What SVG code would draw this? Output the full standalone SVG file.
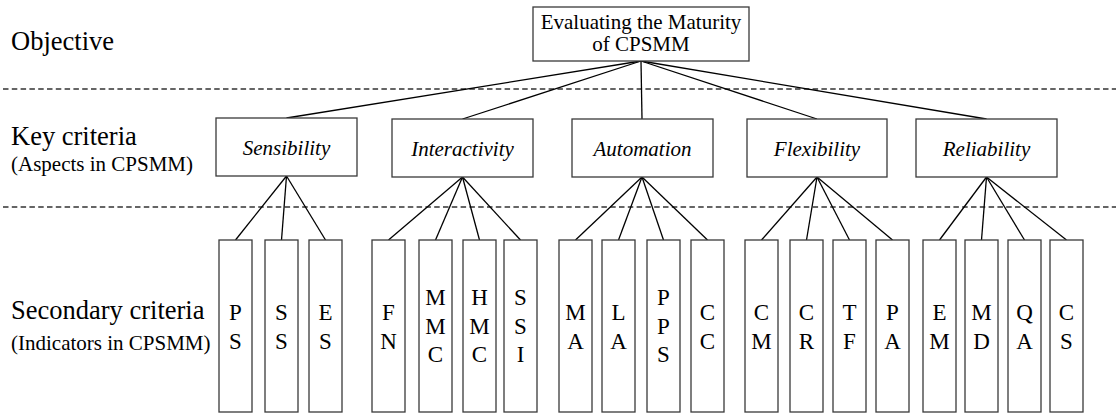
<svg xmlns="http://www.w3.org/2000/svg" width="1118" height="414" viewBox="0 0 1118 414">
<style>
.bg{fill:#ffffff}
.box{fill:#ffffff;stroke:#3a3a3a;stroke-width:1.3}
.ln{stroke:#000000;stroke-width:1.3;fill:none}
.dash{stroke:#333333;stroke-width:1.4;stroke-dasharray:5.5 3.3;fill:none}
.lbl{font-family:"Liberation Serif","Times New Roman",serif;font-size:26.5px;fill:#000}
.sub{font-family:"Liberation Serif","Times New Roman",serif;font-size:21px;fill:#000}
.top{font-family:"Liberation Serif","Times New Roman",serif;font-size:21px;fill:#000;text-anchor:middle}
.key{font-family:"Liberation Serif","Times New Roman",serif;font-size:21px;font-style:italic;fill:#000;text-anchor:middle}
.let{font-family:"Liberation Serif","Times New Roman",serif;font-size:23px;fill:#000;text-anchor:middle}
</style>
<rect class="bg" x="0" y="0" width="1118" height="414"/>
<g id="separators">
<line class="dash" x1="3" y1="89" x2="1116" y2="89"/>
<line class="dash" x1="3" y1="207" x2="1116" y2="207"/>
</g>
<g id="level-labels">
<text class="lbl" x="11" y="50">Objective</text>
<text class="lbl" x="11" y="145">Key criteria</text>
<text class="sub" x="11" y="171">(Aspects in CPSMM)</text>
<text class="lbl" x="11" y="319">Secondary criteria</text>
<text class="sub" x="11" y="350">(Indicators in CPSMM)</text>
</g>
<g id="connectors">
<line class="ln" x1="641" y1="61" x2="286.5" y2="118"/>
<line class="ln" x1="641" y1="61" x2="462.5" y2="119"/>
<line class="ln" x1="641" y1="61" x2="642" y2="119"/>
<line class="ln" x1="641" y1="61" x2="817" y2="119"/>
<line class="ln" x1="641" y1="61" x2="986.5" y2="119"/>
<line class="ln" x1="286.5" y1="176" x2="235.5" y2="240"/>
<line class="ln" x1="286.5" y1="176" x2="281.5" y2="240"/>
<line class="ln" x1="286.5" y1="176" x2="325.5" y2="240"/>
<line class="ln" x1="462.5" y1="177" x2="388.5" y2="240"/>
<line class="ln" x1="462.5" y1="177" x2="435.5" y2="240"/>
<line class="ln" x1="462.5" y1="177" x2="479.5" y2="240"/>
<line class="ln" x1="462.5" y1="177" x2="520.5" y2="240"/>
<line class="ln" x1="642" y1="177" x2="575.5" y2="240"/>
<line class="ln" x1="642" y1="177" x2="618.5" y2="240"/>
<line class="ln" x1="642" y1="177" x2="663.5" y2="240"/>
<line class="ln" x1="642" y1="177" x2="707.5" y2="240"/>
<line class="ln" x1="817" y1="177" x2="761.5" y2="240"/>
<line class="ln" x1="817" y1="177" x2="806.5" y2="240"/>
<line class="ln" x1="817" y1="177" x2="849.5" y2="240"/>
<line class="ln" x1="817" y1="177" x2="892.5" y2="240"/>
<line class="ln" x1="986.5" y1="177" x2="939.5" y2="240"/>
<line class="ln" x1="986.5" y1="177" x2="981.5" y2="240"/>
<line class="ln" x1="986.5" y1="177" x2="1024.5" y2="240"/>
<line class="ln" x1="986.5" y1="177" x2="1066.5" y2="240"/>
</g>
<g id="objective">
<rect class="box" x="533" y="7" width="216" height="54"/>
<text class="top" x="641" y="29">Evaluating the Maturity</text>
<text class="top" x="641" y="51">of CPSMM</text>
</g>
<g id="sensibility">
<rect class="box" x="216" y="118" width="141" height="58"/>
<text class="key" x="286.5" y="155">Sensibility</text>
</g>
<g id="interactivity">
<rect class="box" x="392" y="119" width="141" height="58"/>
<text class="key" x="462.5" y="156">Interactivity</text>
</g>
<g id="automation">
<rect class="box" x="572" y="119" width="141" height="58"/>
<text class="key" x="642.5" y="156">Automation</text>
</g>
<g id="flexibility">
<rect class="box" x="747" y="119" width="140" height="58"/>
<text class="key" x="817" y="156">Flexibility</text>
</g>
<g id="reliability">
<rect class="box" x="916" y="119" width="141" height="58"/>
<text class="key" x="986.5" y="156">Reliability</text>
</g>
<g id="PS"><rect class="box" x="219" y="240" width="33" height="172"/><text class="let" x="235.5" y="320">P</text><text class="let" x="235.5" y="348.5">S</text></g>
<g id="SS"><rect class="box" x="265" y="240" width="33" height="172"/><text class="let" x="281.5" y="320">S</text><text class="let" x="281.5" y="348.5">S</text></g>
<g id="ES"><rect class="box" x="309" y="240" width="33" height="172"/><text class="let" x="325.5" y="320">E</text><text class="let" x="325.5" y="348.5">S</text></g>
<g id="FN"><rect class="box" x="372" y="240" width="33" height="172"/><text class="let" x="388.5" y="320">F</text><text class="let" x="388.5" y="348.5">N</text></g>
<g id="MMC"><rect class="box" x="419" y="240" width="33" height="172"/><text class="let" x="435.5" y="305">M</text><text class="let" x="435.5" y="333.5">M</text><text class="let" x="435.5" y="362">C</text></g>
<g id="HMC"><rect class="box" x="463" y="240" width="33" height="172"/><text class="let" x="479.5" y="305">H</text><text class="let" x="479.5" y="333.5">M</text><text class="let" x="479.5" y="362">C</text></g>
<g id="SSI"><rect class="box" x="504" y="240" width="33" height="172"/><text class="let" x="520.5" y="305">S</text><text class="let" x="520.5" y="333.5">S</text><text class="let" x="520.5" y="362">I</text></g>
<g id="MA"><rect class="box" x="559" y="240" width="33" height="172"/><text class="let" x="575.5" y="320">M</text><text class="let" x="575.5" y="348.5">A</text></g>
<g id="LA"><rect class="box" x="602" y="240" width="33" height="172"/><text class="let" x="618.5" y="320">L</text><text class="let" x="618.5" y="348.5">A</text></g>
<g id="PPS"><rect class="box" x="647" y="240" width="33" height="172"/><text class="let" x="663.5" y="305">P</text><text class="let" x="663.5" y="333.5">P</text><text class="let" x="663.5" y="362">S</text></g>
<g id="CC"><rect class="box" x="691" y="240" width="33" height="172"/><text class="let" x="707.5" y="320">C</text><text class="let" x="707.5" y="348.5">C</text></g>
<g id="CM"><rect class="box" x="745" y="240" width="33" height="172"/><text class="let" x="761.5" y="320">C</text><text class="let" x="761.5" y="348.5">M</text></g>
<g id="CR"><rect class="box" x="790" y="240" width="33" height="172"/><text class="let" x="806.5" y="320">C</text><text class="let" x="806.5" y="348.5">R</text></g>
<g id="TF"><rect class="box" x="833" y="240" width="33" height="172"/><text class="let" x="849.5" y="320">T</text><text class="let" x="849.5" y="348.5">F</text></g>
<g id="PA"><rect class="box" x="876" y="240" width="33" height="172"/><text class="let" x="892.5" y="320">P</text><text class="let" x="892.5" y="348.5">A</text></g>
<g id="EM"><rect class="box" x="923" y="240" width="33" height="172"/><text class="let" x="939.5" y="320">E</text><text class="let" x="939.5" y="348.5">M</text></g>
<g id="MD"><rect class="box" x="965" y="240" width="33" height="172"/><text class="let" x="981.5" y="320">M</text><text class="let" x="981.5" y="348.5">D</text></g>
<g id="QA"><rect class="box" x="1008" y="240" width="33" height="172"/><text class="let" x="1024.5" y="320">Q</text><text class="let" x="1024.5" y="348.5">A</text></g>
<g id="CS"><rect class="box" x="1050" y="240" width="33" height="172"/><text class="let" x="1066.5" y="320">C</text><text class="let" x="1066.5" y="348.5">S</text></g>
</svg>
